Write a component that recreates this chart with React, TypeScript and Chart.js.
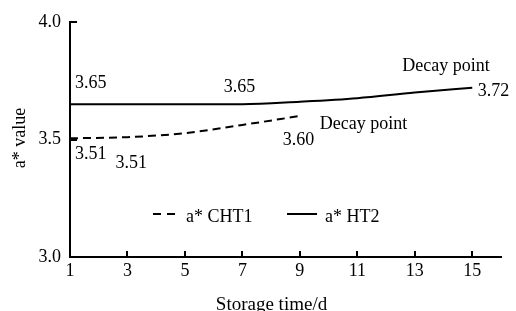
import React, { useEffect, useRef } from "react";
import { Chart, registerables } from "chart.js";

Chart.register(...registerables);

// ---- data ----
const days = [1, 3, 5, 7, 9, 11, 13, 15];
const cht1 = [3.505, 3.51, 3.527, 3.562, 3.6];
const ht2 = [3.65, 3.65, 3.65, 3.65, 3.661, 3.676, 3.7, 3.72];
const seriesNames = ["a* CHT1", "a* HT2"];
const xTicks = [1, 3, 5, 7, 9, 11, 13, 15];
const yTicks = [3.0, 3.5, 4.0];
const xTitle = "Storage time/d";
const yTitle = "a* value";
const noteTexts = ["3.65", "3.65", "Decay point", "3.72", "Decay point", "3.60", "3.51", "3.51"];
const noteSeries = [1, 1, 1, 1, 0, 0, 0, 0];
const noteIndex = [0, 3, 7, 7, 4, 4, 0, 1];

// ---- layout / style ----
const FONT = "'Liberation Serif', 'Times New Roman', serif";
const FS = 18;
const noteOffsets: [number, number, CanvasTextAlign][] = [
  [5, -16.5, "left"],
  [-3, -12.5, "center"],
  [-70, -17, "left"],
  [5.5, 8.5, "left"],
  [20, 12.5, "left"],
  [-17, 28.5, "left"],
  [5, 21, "left"],
  [-12, 30.5, "left"],
];

const overlay = {
  id: "overlay",
  afterDraw(chart: any) {
    const ctx = chart.ctx as CanvasRenderingContext2D;
    const xs = chart.scales.x;
    const ys = chart.scales.y;
    const area = chart.chartArea;
    ctx.save();
    ctx.strokeStyle = "#000";
    ctx.fillStyle = "#000";
    ctx.lineWidth = 2;
    // inward tick marks
    xTicks.forEach((v) => {
      if (v === xs.min) return;
      const px = Math.round(xs.getPixelForValue(v));
      ctx.beginPath();
      ctx.moveTo(px, area.bottom);
      ctx.lineTo(px, area.bottom - 6);
      ctx.stroke();
    });
    yTicks.forEach((v) => {
      if (v === ys.min) return;
      const py = Math.round(ys.getPixelForValue(v));
      ctx.beginPath();
      ctx.moveTo(area.left, py);
      ctx.lineTo(area.left + 7, py);
      ctx.stroke();
    });
    // notes
    ctx.font = `${FS}px ${FONT}`;
    ctx.textBaseline = "alphabetic";
    noteTexts.forEach((t, i) => {
      const ds = chart.data.datasets[noteSeries[i]];
      const pt = ds.data[noteIndex[i]];
      const px = xs.getPixelForValue(pt.x);
      const py = ys.getPixelForValue(pt.y);
      const [dx, dy, al] = noteOffsets[i];
      ctx.textAlign = al;
      ctx.fillText(t, px + dx, py + dy);
    });
    // legend
    const legendItems = [
      { x0: 153, x1: 175, tx: 186 },
      { x0: 287, x1: 317, tx: 325 },
    ];
    chart.data.datasets.forEach((ds: any, i: number) => {
      const li = legendItems[i];
      ctx.save();
      ctx.lineWidth = 2;
      ctx.setLineDash(i === 0 ? [8, 6] : []);
      ctx.beginPath();
      ctx.moveTo(li.x0, 214);
      ctx.lineTo(li.x1, 214);
      ctx.stroke();
      ctx.restore();
      ctx.textAlign = "left";
      ctx.fillText(ds.label, li.tx, 221.5);
    });
    // axis titles
    ctx.font = `19px ${FONT}`;
    ctx.textAlign = "center";
    ctx.fillText(xTitle, 271.5, 309.5);
    ctx.font = `${FS}px ${FONT}`;
    ctx.save();
    ctx.translate(25, 138);
    ctx.rotate(-Math.PI / 2);
    ctx.fillText(yTitle, 0, 0);
    ctx.restore();
    ctx.restore();
  },
};

export default function App() {
  const ref = useRef<HTMLCanvasElement>(null);
  useEffect(() => {
    if (!ref.current) return;
    const chart = new Chart(ref.current, {
      type: "line",
      data: {
        datasets: [
          {
            label: seriesNames[0],
            data: cht1.map((v, i) => ({ x: days[i], y: v })),
            borderColor: "#000",
            borderWidth: 2,
            borderDash: [8, 5],
            pointRadius: 0,
            cubicInterpolationMode: "monotone",
            fill: false,
          },
          {
            label: seriesNames[1],
            data: ht2.map((v, i) => ({ x: days[i], y: v })),
            borderColor: "#000",
            borderWidth: 2,
            pointRadius: 0,
            cubicInterpolationMode: "monotone",
            fill: false,
          },
        ],
      },
      options: {
        responsive: false,
        animation: false,
        layout: { padding: { top: 22, right: 15, bottom: 0, left: 0 } },
        plugins: { legend: { display: false }, tooltip: { enabled: false } },
        scales: {
          x: {
            type: "linear",
            min: 1,
            max: 16,
            afterBuildTicks: (s: any) => {
              s.ticks = xTicks.map((v) => ({ value: v }));
            },
            afterFit: (s: any) => {
              s.height = 54;
            },
            grid: { drawOnChartArea: false, drawTicks: false },
            border: { color: "#000", width: 2 },
            ticks: {
              color: "#000",
              padding: 3,
              maxRotation: 0,
              font: { family: FONT, size: FS },
              callback: (v: any) => String(v),
            },
          },
          y: {
            min: 3,
            max: 4,
            afterBuildTicks: (s: any) => {
              s.ticks = yTicks.map((v) => ({ value: v }));
            },
            afterFit: (s: any) => {
              s.width = 70;
            },
            grid: { drawOnChartArea: false, drawTicks: false },
            border: { color: "#000", width: 2 },
            ticks: {
              color: "#000",
              padding: 9,
              font: { family: FONT, size: FS },
              callback: (v: any) => Number(v).toFixed(1),
            },
          },
        },
      },
      plugins: [overlay],
    });
    return () => chart.destroy();
  }, []);
  return (
    <div style={{ position: "absolute", left: 0, top: 0, width: 516, height: 311, background: "#fff" }}>
      <canvas ref={ref} width={516} height={311} />
    </div>
  );
}
